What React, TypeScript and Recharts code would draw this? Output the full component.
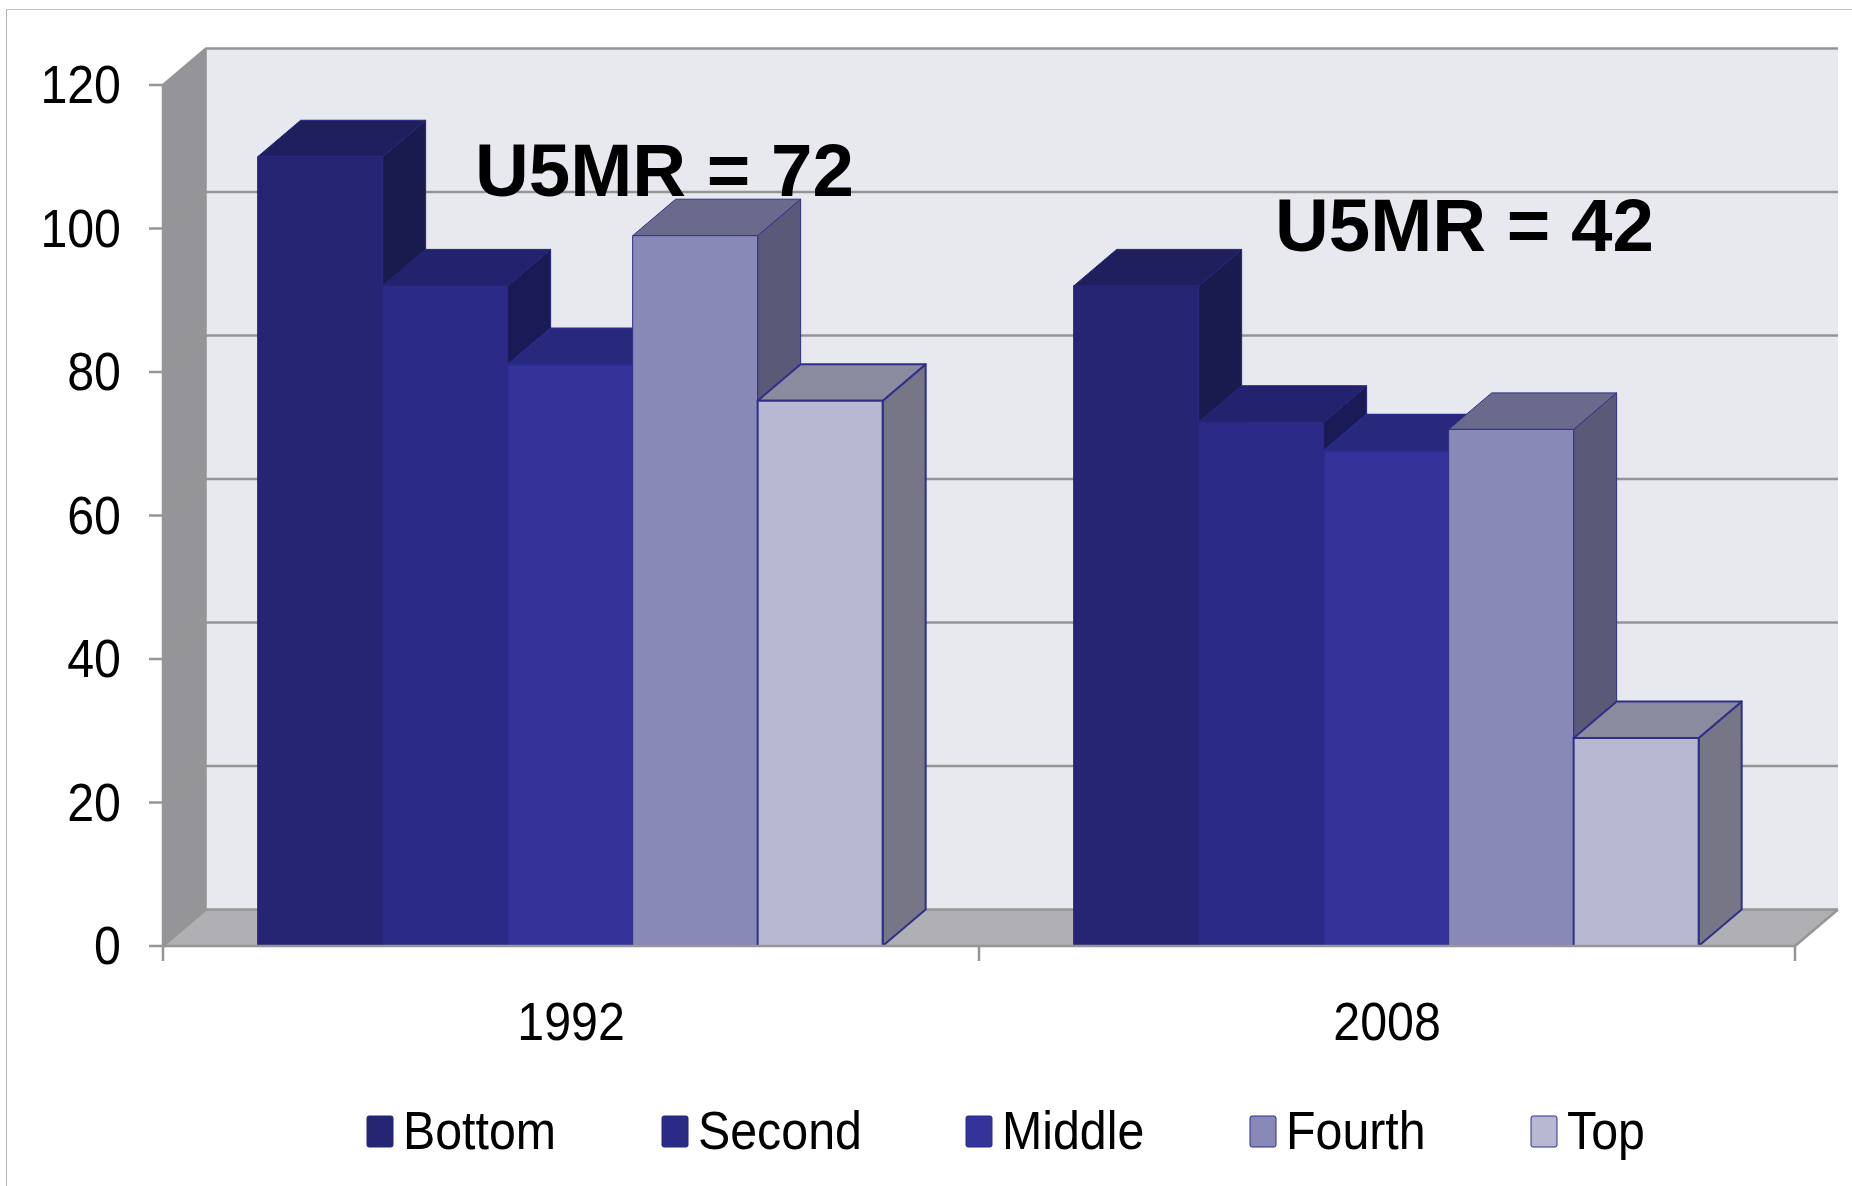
import React from 'react';
import { BarChart, Bar, XAxis, YAxis, CartesianGrid, Legend } from 'recharts';

const categories = ['1992', '2008'];
const bottomValues = [110, 92];
const secondValues = [92, 73];
const middleValues = [81, 69];
const fourthValues = [99, 72];
const topValues = [76, 29];
const yTicks = [0, 20, 40, 60, 80, 100, 120];
const seriesNames = ['Bottom', 'Second', 'Middle', 'Fourth', 'Top'];
const frontColors = ['#252574', '#2B2B87', '#333399', '#8989B8', '#B8B8D2'];
const roofColors = ['#1F1F5E', '#22226E', '#28287C', '#6A6A8C', '#8B8B9F'];
const sideColors = ['#191A4E', '#1A1A56', '#1F1F62', '#5A5A78', '#767686'];
const strokeColors = ['#27277C', '#27277C', '#2B2B8A', '#2F2F8A', '#2F2F8A'];
const strokeWidths = [1, 1, 1.5, 1, 2];
const annotations = [
  { text: 'U5MR = 72', x: 475, y: 196 },
  { text: 'U5MR = 42', x: 1275, y: 251 },
];

const data = categories.map((name, i) => ({
  name,
  Bottom: bottomValues[i],
  Second: secondValues[i],
  Middle: middleValues[i],
  Fourth: fourthValues[i],
  Top: topValues[i],
}));

const W = 1852;
const H = 1186;
const LEFT = 163;
const RIGHT = 1795;
const TOP = 85;
const BOTTOM = 946;
const DX = 43;
const DY = 36.5;
const GRID = '#959595';
const FONT = '"Liberation Sans", Arial, sans-serif';
const SX = 0.895;
const FS = 54;
const LEGEND_X = [367, 662, 966, 1250, 1531];
const Y_AXIS_W = 100;
const X_AXIS_H = 60;
const LEGEND_H = 70;

const Squeezed = ({ x, y, anchor, children }: any) => (
  <text
    transform={`translate(${x},${y}) scale(${SX},1)`}
    textAnchor={anchor}
    fontFamily={FONT}
    fontSize={FS}
    fill="#000"
  >
    {children}
  </text>
);

const YTick = ({ x, y, payload }: any) => (
  <Squeezed x={x} y={y + 18} anchor="end">
    {payload.value}
  </Squeezed>
);

const XTick = ({ x, payload, index }: any) => {
  const half = (RIGHT - LEFT) / categories.length / 2;
  return (
    <g>
      <line x1={x - half} x2={x - half} y1={BOTTOM} y2={BOTTOM + 15} stroke={GRID} strokeWidth={2.5} />
      {index === categories.length - 1 && (
        <line x1={x + half} x2={x + half} y1={BOTTOM} y2={BOTTOM + 15} stroke={GRID} strokeWidth={2.5} />
      )}
      <Squeezed x={x} y={1040} anchor="middle">
        {payload.value}
      </Squeezed>
    </g>
  );
};

const Walls = () => {
  const l = LEFT;
  const r = RIGHT;
  const t = TOP;
  const b = BOTTOM;
  return (
    <svg width={W} height={H} style={{ position: 'absolute', left: 0, top: 0 }}>
      <polygon points={`${l + DX},${t - DY} ${r + DX},${t - DY} ${r + DX},${b - DY} ${l + DX},${b - DY}`} fill="#E8E9EF" />
      <polygon points={`${l},${t} ${l + DX},${t - DY} ${l + DX},${b - DY} ${l},${b}`} fill="#959599" />
      <polygon points={`${l},${b} ${l + DX},${b - DY} ${r + DX},${b - DY} ${r},${b}`} fill="#B0AFB3" />
      <line x1={r} y1={b} x2={r + DX} y2={b - DY} stroke={GRID} strokeWidth={2.5} />
      <line x1={l + DX} y1={t - DY} x2={l + DX} y2={b - DY} stroke={GRID} strokeWidth={1.5} />
    </svg>
  );
};

const gridLine = ({ x1, y1, x2, key }: any) => (
  <polyline
    key={key}
    points={`${x1},${y1} ${x1 + DX},${y1 - DY} ${x2 + DX},${y1 - DY}`}
    fill="none"
    stroke={GRID}
    strokeWidth={2.5}
  />
);

const Box = ({ x, y, width, height, fill, roof, side, line, lw }: any) => {
  const r = x + width;
  const b = y + height;
  const common = { stroke: line, strokeWidth: lw, strokeLinejoin: 'round' as const };
  return (
    <g>
      <polygon points={`${r},${y} ${r + DX},${y - DY} ${r + DX},${b - DY} ${r},${b}`} fill={side} {...common} />
      <polygon points={`${x},${y} ${x + DX},${y - DY} ${r + DX},${y - DY} ${r},${y}`} fill={roof} {...common} />
      <rect x={x} y={y} width={width} height={height} fill={fill} {...common} />
    </g>
  );
};

const LegendContent = ({ payload }: any) => (
  <svg width={W} height={LEGEND_H} style={{ display: 'block' }}>
    {(payload || []).map((item: any, i: number) => (
      <g key={item.value}>
        <rect x={LEGEND_X[i]} y={16} width={26} height={31} rx={2} fill={item.color} stroke={strokeColors[i]} strokeWidth={1} />
        <Squeezed x={LEGEND_X[i] + 36} y={49} anchor="start">
          {item.value}
        </Squeezed>
      </g>
    ))}
  </svg>
);

export default function App() {
  return (
    <div style={{ position: 'absolute', left: 0, top: 0, width: W, height: H, background: '#fff', overflow: 'hidden' }}>
      <div style={{ position: 'absolute', left: 6, top: 9, right: 0, bottom: 0, borderTop: '1.5px solid #C4C4C4', borderLeft: '1.5px solid #B4B4B4' }} />
      <Walls />
      <BarChart
        width={W}
        height={H}
        data={data}
        barCategoryGap="11.6%"
        barGap={0}
        margin={{ top: TOP, left: LEFT - Y_AXIS_W, right: W - RIGHT, bottom: H - BOTTOM - X_AXIS_H - LEGEND_H }}
        style={{ position: 'absolute', left: 0, top: 0 }}
      >
        <CartesianGrid vertical={false} horizontal={gridLine} syncWithTicks />
        <XAxis
          dataKey="name"
          height={X_AXIS_H}
          tick={<XTick />}
          tickLine={false}
          axisLine={{ stroke: GRID, strokeWidth: 2.5 }}
        />
        <YAxis
          width={Y_AXIS_W}
          domain={[0, 120]}
          ticks={yTicks}
          interval={0}
          tick={<YTick />}
          tickSize={14}
          tickMargin={28}
          tickLine={{ stroke: GRID, strokeWidth: 2.5 }}
          axisLine={{ stroke: GRID, strokeWidth: 2.5 }}
        />
        <Legend
          content={<LegendContent />}
          verticalAlign="bottom"
          itemSorter={null}
          wrapperStyle={{ left: 0, top: 1100, width: W, height: LEGEND_H }}
        />
        {seriesNames.map((name, i) => (
          <Bar
            key={name}
            dataKey={name}
            fill={frontColors[i]}
            isAnimationActive={false}
            shape={(p: any) => <Box {...p} roof={roofColors[i]} side={sideColors[i]} line={strokeColors[i]} lw={strokeWidths[i]} />}
          />
        ))}
      </BarChart>
      <svg width={W} height={H} style={{ position: 'absolute', left: 0, top: 0, pointerEvents: 'none' }}>
        {annotations.map((a) => (
          <text key={a.text} x={a.x} y={a.y} fontFamily={FONT} fontWeight="bold" fontSize={74.5} fill="#000">
            {a.text}
          </text>
        ))}
      </svg>
    </div>
  );
}
